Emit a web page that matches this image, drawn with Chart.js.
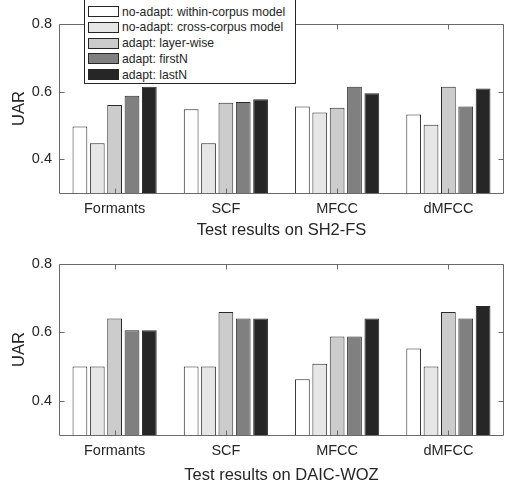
<!DOCTYPE html>
<html>
<head>
<meta charset="utf-8">
<script src="https://cdn.jsdelivr.net/npm/chart.js@4/dist/chart.umd.min.js"></script>
<style>
  html, body { margin: 0; padding: 0; background: #fff; }
  #wrap { position: relative; width: 505px; height: 484px; overflow: hidden; font-family: "Liberation Sans", Arial, sans-serif; }
  canvas { position: absolute; left: 0; }
  #c1 { top: 0; }
  #c2 { top: 240px; }
  #legend { position: absolute; left: 84px; top: -4px; width: 212px; height: 88px; border: 1px solid #262626; background: #fff; box-sizing: border-box; }
  .row { position: absolute; left: 0; height: 16px; line-height: 16px; font-size: 12.2px; color: #262626; white-space: nowrap; }
  .sw { position: absolute; left: 3px; top: 2.5px; width: 31px; height: 11px; box-sizing: border-box; border: 1px solid #262626; }
  .tx { position: absolute; left: 37px; top: 0; }
</style>
</head>
<body>
<div id="wrap">
  <canvas id="c1" width="505" height="240"></canvas>
  <canvas id="c2" width="505" height="244"></canvas>
  <div id="legend"></div>
</div>
<script>
const categories = ["Formants", "SCF", "MFCC", "dMFCC"];
const seriesLabels = [
  "no-adapt: within-corpus model",
  "no-adapt: cross-corpus model",
  "adapt: layer-wise",
  "adapt: firstN",
  "adapt: lastN"
];
const seriesColors = ["#ffffff", "#e6e6e6", "#cccccc", "#808080", "#262626"];
const yTicks = [0.4, 0.6, 0.8];

// Test results on SH2-FS
const sh2WithinCorpus = [0.497, 0.548, 0.556, 0.532];
const sh2CrossCorpus  = [0.447, 0.447, 0.538, 0.502];
const sh2LayerWise    = [0.560, 0.567, 0.552, 0.614];
const sh2FirstN       = [0.588, 0.569, 0.614, 0.556];
const sh2LastN        = [0.614, 0.577, 0.595, 0.609];

// Test results on DAIC-WOZ
const daicWithinCorpus = [0.500, 0.500, 0.463, 0.553];
const daicCrossCorpus  = [0.500, 0.500, 0.508, 0.500];
const daicLayerWise    = [0.641, 0.660, 0.588, 0.660];
const daicFirstN       = [0.606, 0.641, 0.588, 0.641];
const daicLastN        = [0.606, 0.641, 0.641, 0.677];

const FONT = '"Liberation Sans", Arial, sans-serif';
const TXT = '#262626';
const AXIS = '#6a6a6a';

const boxPlugin = {
  id: 'matlabBox',
  afterDatasetsDraw(chart) {
    const {ctx, chartArea: a, scales} = chart;
    ctx.save();
    ctx.strokeStyle = AXIS;
    ctx.lineWidth = 1;
    const L = Math.round(a.left) + 0.5, R = Math.round(a.right) - 0.5;
    const T = Math.round(a.top) + 0.5, B = Math.round(a.bottom) + 0.5;
    ctx.beginPath();
    ctx.moveTo(L, T); ctx.lineTo(R, T); ctx.lineTo(R, B); ctx.lineTo(L, B); ctx.closePath();
    ctx.stroke();
    const tl = 5;
    ctx.beginPath();
    scales.x.ticks.forEach((t, i) => {
      const x = Math.round(scales.x.getPixelForTick(i)) + 0.5;
      ctx.moveTo(x, B); ctx.lineTo(x, B - tl);
      ctx.moveTo(x, T); ctx.lineTo(x, T + tl);
    });
    yTicks.forEach(v => {
      const y = Math.round(scales.y.getPixelForValue(v)) + 0.5;
      ctx.moveTo(L, y); ctx.lineTo(L + tl, y);
      ctx.moveTo(R, y); ctx.lineTo(R - tl, y);
    });
    ctx.stroke();
    ctx.restore();
  }
};

function makeChart(id, canvasH, areaH, title, titlePadBottom, series) {
  const datasets = series.map((vals, i) => ({
    label: seriesLabels[i],
    data: vals,
    backgroundColor: seriesColors[i],
    borderColor: '#2a2a2a',
    borderWidth: 1,
    borderSkipped: false,
    categoryPercentage: 0.78,
    barPercentage: 0.85
  }));
  return new Chart(document.getElementById(id), {
    type: 'bar',
    data: { labels: categories, datasets },
    plugins: [boxPlugin],
    options: {
      responsive: false,
      animation: false,
      devicePixelRatio: 1,
      layout: { padding: { left: 0, right: 1, top: 24, bottom: 0 } },
      plugins: { legend: { display: false }, tooltip: { enabled: false } },
      scales: {
        x: {
          type: 'category',
          offset: true,
          grid: { display: false, drawTicks: false },
          border: { display: false },
          ticks: { color: TXT, font: { family: FONT, size: 14.5 }, padding: 7, maxRotation: 0, autoSkip: false },
          title: { display: true, text: title, color: TXT, font: { family: FONT, size: 16.5 }, padding: { top: 0, bottom: titlePadBottom } },
          afterFit(scale) { scale.height = canvasH - 24 - areaH; }
        },
        y: {
          min: 0.3,
          max: 0.8,
          grid: { display: false, drawTicks: false },
          border: { display: false },
          afterBuildTicks(scale) { scale.ticks = yTicks.map(v => ({ value: v })); },
          ticks: { color: TXT, font: { family: FONT, size: 14.5 }, padding: 7, callback: v => Number(v).toFixed(1) },
          title: { display: true, text: 'UAR', color: TXT, font: { family: FONT, size: 16.5 }, padding: { top: 10, bottom: 0 } },
          afterFit(scale) { scale.width = 59; }
        }
      }
    }
  });
}

makeChart('c1', 240, 169, 'Test results on SH2-FS', 0,
  [sh2WithinCorpus, sh2CrossCorpus, sh2LayerWise, sh2FirstN, sh2LastN]);
makeChart('c2', 244, 171, 'Test results on DAIC-WOZ', -1,
  [daicWithinCorpus, daicCrossCorpus, daicLayerWise, daicFirstN, daicLastN]);

// Legend (overlaps top plot, as in the reference)
const legend = document.getElementById('legend');
seriesLabels.forEach((lab, i) => {
  const row = document.createElement('div');
  row.className = 'row';
  row.style.top = (11.5 + 4 - 1 + i * 15.8 - 8) + 'px';
  row.style.width = '210px';
  const sw = document.createElement('div');
  sw.className = 'sw';
  sw.style.background = seriesColors[i];
  const tx = document.createElement('span');
  tx.className = 'tx';
  tx.textContent = lab;
  row.appendChild(sw); row.appendChild(tx);
  legend.appendChild(row);
});
</script>
</body>
</html>
